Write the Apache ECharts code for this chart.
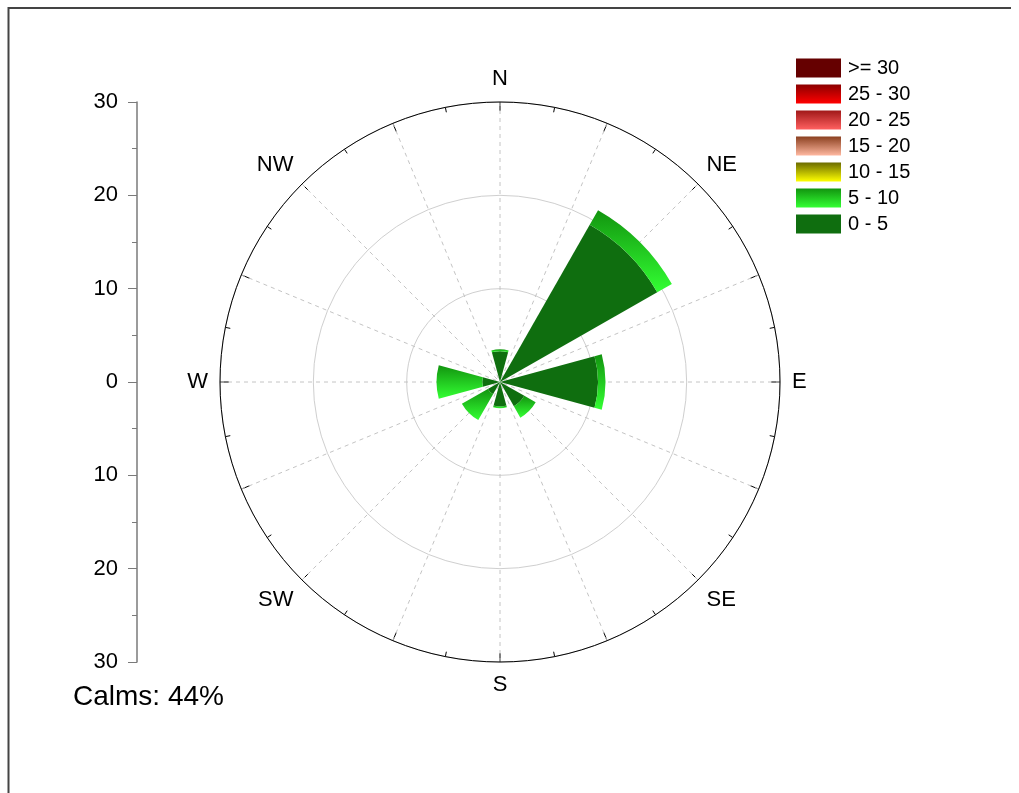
<!DOCTYPE html>
<html>
<head>
<meta charset="utf-8">
<script src="https://cdn.jsdelivr.net/npm/echarts@6/dist/echarts.min.js"></script>
<style>
  html, body { margin: 0; padding: 0; background: #fff; }
  #main { width: 1019px; height: 793px; }
</style>
</head>
<body>
<div id="main"></div>
<script>
// wind directions (bar sectors) and compass labels
var directions = ['N', 'NE', 'E', 'SE', 'S', 'SW', 'W', 'NW'];
var compassLabels = ['N', 'NE', 'E', 'SE', 'S', 'SW', 'W', 'NW'];

// frequency (%) per speed class
var speed0to5 = [3.3, 19.4, 10.5, 3.0, 2.6, 1.5, 1.9, 0];
var speed5to10 = [0.2, 1.8, 0.8, 1.4, 0.2, 3.2, 4.9, 0];
var speed10to15 = [0, 0, 0, 0, 0, 0, 0, 0];
var speed15to20 = [0, 0, 0, 0, 0, 0, 0, 0];
var speed20to25 = [0, 0, 0, 0, 0, 0, 0, 0];
var speed25to30 = [0, 0, 0, 0, 0, 0, 0, 0];
var speedOver30 = [0, 0, 0, 0, 0, 0, 0, 0];

var classNames = ['0 - 5', '5 - 10', '10 - 15', '15 - 20', '20 - 25', '25 - 30', '>= 30'];
var calmsText = 'Calms: 44%';

var FONT = 'Liberation Sans, Arial, sans-serif';

function grad(top, bottom) {
  return new echarts.graphic.LinearGradient(0, 0, 0, 1, [
    { offset: 0, color: top },
    { offset: 1, color: bottom }
  ]);
}

var classColors = [
  '#0f6e0f',
  grad('#12940f', '#33ff33'),
  grad('#6b6b00', '#ffff00'),
  grad('#8b4020', '#ffb8a0'),
  grad('#a01818', '#ff6060'),
  grad('#8b0000', '#ff0000'),
  '#650000'
];
var classData = [speed0to5, speed5to10, speed10to15, speed15to20, speed20to25, speed25to30, speedOver30];

var series = classData.map(function (d, i) {
  return {
    name: classNames[i],
    type: 'bar',
    coordinateSystem: 'polar',
    polarIndex: 1,
    stack: 'wind',
    data: d,
    barCategoryGap: '32%',
    itemStyle: { color: classColors[i], borderWidth: 0 },
    emphasis: { disabled: true },
    z: 3
  };
});

var chart = echarts.init(document.getElementById('main'));

var option = {
  backgroundColor: '#fff',
  animation: false,
  textStyle: { fontFamily: FONT },
  legend: {
    orient: 'vertical',
    left: 796,
    top: 58,
    padding: 0,
    itemWidth: 45,
    itemHeight: 19,
    itemGap: 6,
    icon: 'rect',
    selectedMode: false,
    data: classNames.slice().reverse(),
    textStyle: { fontSize: 20, color: '#000', fontFamily: FONT, padding: [0, 0, 0, 2] }
  },
  polar: [
    { center: [500, 382], radius: 280 },
    { center: [500, 382], radius: 280 }
  ],
  angleAxis: [
    {
      polarIndex: 0,
      type: 'value',
      min: 0,
      max: 360,
      interval: 22.5,
      startAngle: 90,
      clockwise: true,
      axisLine: { show: true, lineStyle: { color: '#000', width: 1 } },
      axisTick: { show: true, inside: true, length: 9, lineStyle: { color: '#000' } },
      minorTick: { show: true, splitNumber: 2, length: 5, lineStyle: { color: '#000' } },
      splitLine: { show: true, lineStyle: { color: '#c4c4c4', type: [4, 4], width: 1 } },
      axisLabel: {
        show: true,
        margin: 12,
        fontSize: 22,
        color: '#000',
        fontFamily: FONT,
        formatter: function (v) {
          return v % 45 === 0 && v < 360 ? compassLabels[v / 45] : '';
        }
      }
    },
    {
      polarIndex: 1,
      type: 'category',
      data: directions,
      startAngle: 112.5,
      clockwise: true,
      axisLine: { show: false },
      axisTick: { show: false },
      axisLabel: { show: false },
      splitLine: { show: false }
    }
  ],
  radiusAxis: [
    {
      polarIndex: 0,
      min: 0,
      max: 30,
      interval: 10,
      axisLine: { show: false },
      axisTick: { show: false },
      axisLabel: { show: false },
      splitLine: { show: true, lineStyle: { color: '#cfcfcf', width: 1 } }
    },
    {
      polarIndex: 1,
      min: 0,
      max: 30,
      axisLine: { show: false },
      axisTick: { show: false },
      axisLabel: { show: false },
      splitLine: { show: false }
    }
  ],
  grid: { left: 137, top: 102, width: 1, height: 560 },
  xAxis: { type: 'value', show: false },
  yAxis: {
    type: 'value',
    min: -30,
    max: 30,
    interval: 10,
    axisLine: { show: true, lineStyle: { color: '#7a7a7a', width: 1.5 } },
    axisTick: { show: true, length: 9, lineStyle: { color: '#7a7a7a' } },
    minorTick: { show: true, splitNumber: 2, length: 5, lineStyle: { color: '#7a7a7a' } },
    splitLine: { show: false },
    axisLabel: {
      fontSize: 22,
      color: '#000',
      margin: 19,
      fontFamily: FONT,
      formatter: function (v) { return Math.abs(v); }
    }
  },
  graphic: [
    {
      type: 'text',
      left: 73,
      top: 683,
      style: { text: calmsText, fontSize: 28, fill: '#000', fontFamily: FONT }
    },
    {
      type: 'polyline',
      shape: { points: [[8.5, 793], [8.5, 8], [1011, 8]] },
      style: { stroke: '#444', lineWidth: 2, fill: null }
    }
  ],
  series: series
};

chart.setOption(option);
</script>
</body>
</html>
